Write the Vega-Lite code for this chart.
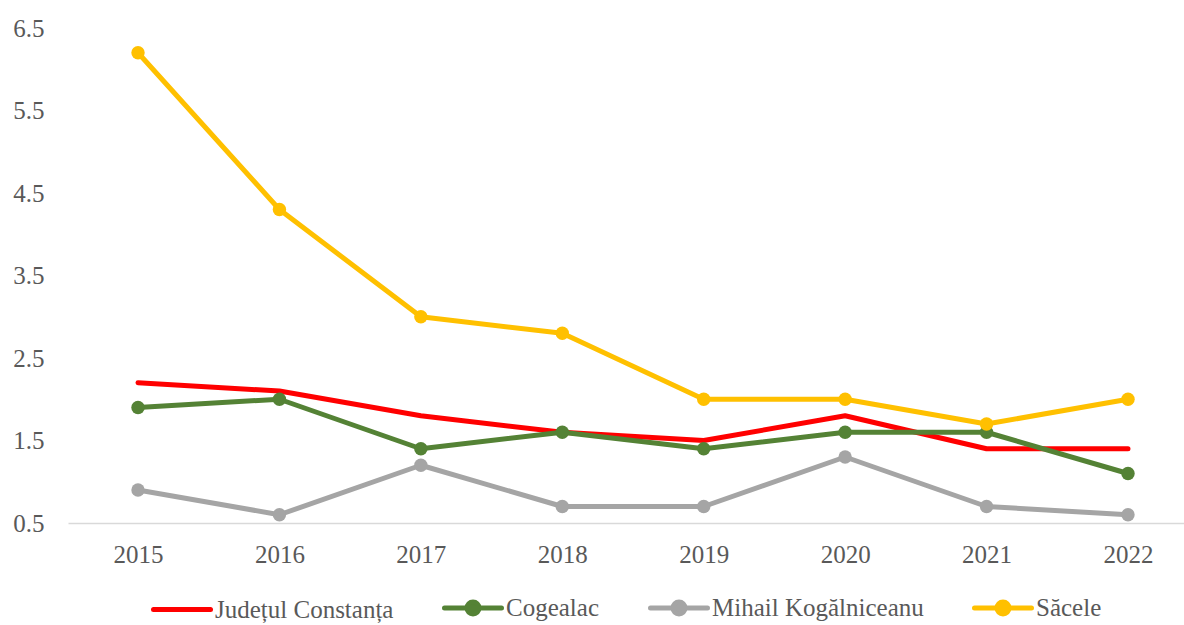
{
  "$schema": "https://vega.github.io/schema/vega-lite/v6.json",
  "width": 1116,
  "height": 495,
  "autosize": {"type": "none"},
  "padding": {"left": 68, "top": 28, "right": 0, "bottom": 102},
  "background": "white",
  "config": {
    "view": {"stroke": null},
    "font": "Liberation Serif",
    "axis": {"labelFont": "Liberation Serif", "labelFontSize": 25, "labelColor": "#595959", "ticks": false, "tickSize": 0, "grid": false, "title": null},
    "legend": {"layout": {"bottom": {"anchor": "middle"}}}
  },
  "data": {
    "values": [
      {"series": "Județul Constanța", "year": 2015, "value": 2.2},
      {"series": "Județul Constanța", "year": 2016, "value": 2.1},
      {"series": "Județul Constanța", "year": 2017, "value": 1.8},
      {"series": "Județul Constanța", "year": 2018, "value": 1.6},
      {"series": "Județul Constanța", "year": 2019, "value": 1.5},
      {"series": "Județul Constanța", "year": 2020, "value": 1.8},
      {"series": "Județul Constanța", "year": 2021, "value": 1.4},
      {"series": "Județul Constanța", "year": 2022, "value": 1.4},
      {"series": "Cogealac", "year": 2015, "value": 1.9},
      {"series": "Cogealac", "year": 2016, "value": 2.0},
      {"series": "Cogealac", "year": 2017, "value": 1.4},
      {"series": "Cogealac", "year": 2018, "value": 1.6},
      {"series": "Cogealac", "year": 2019, "value": 1.4},
      {"series": "Cogealac", "year": 2020, "value": 1.6},
      {"series": "Cogealac", "year": 2021, "value": 1.6},
      {"series": "Cogealac", "year": 2022, "value": 1.1},
      {"series": "Mihail Kogălniceanu", "year": 2015, "value": 0.9},
      {"series": "Mihail Kogălniceanu", "year": 2016, "value": 0.6},
      {"series": "Mihail Kogălniceanu", "year": 2017, "value": 1.2},
      {"series": "Mihail Kogălniceanu", "year": 2018, "value": 0.7},
      {"series": "Mihail Kogălniceanu", "year": 2019, "value": 0.7},
      {"series": "Mihail Kogălniceanu", "year": 2020, "value": 1.3},
      {"series": "Mihail Kogălniceanu", "year": 2021, "value": 0.7},
      {"series": "Mihail Kogălniceanu", "year": 2022, "value": 0.6},
      {"series": "Săcele", "year": 2015, "value": 6.2},
      {"series": "Săcele", "year": 2016, "value": 4.3},
      {"series": "Săcele", "year": 2017, "value": 3.0},
      {"series": "Săcele", "year": 2018, "value": 2.8},
      {"series": "Săcele", "year": 2019, "value": 2.0},
      {"series": "Săcele", "year": 2020, "value": 2.0},
      {"series": "Săcele", "year": 2021, "value": 1.7},
      {"series": "Săcele", "year": 2022, "value": 2.0}
    ]
  },
  "encoding": {
    "x": {
      "field": "year", "type": "quantitative",
      "scale": {"domain": [2014.505, 2022.396], "nice": false, "zero": false},
      "axis": {"values": [2015, 2016, 2017, 2018, 2019, 2020, 2021, 2022], "format": "d", "domainColor": "#d9d9d9", "domainWidth": 1.5, "labelPadding": 19, "labelFlush": false}
    },
    "y": {
      "field": "value", "type": "quantitative",
      "scale": {"domain": [0.5, 6.5], "nice": false, "zero": false},
      "axis": {"values": [0.5, 1.5, 2.5, 3.5, 4.5, 5.5, 6.5], "format": ".1f", "domain": false, "labelPadding": 24}
    },
    "color": {
      "field": "series", "type": "nominal",
      "scale": {
        "domain": ["Județul Constanța", "Cogealac", "Mihail Kogălniceanu", "Săcele"],
        "range": ["#FF0000", "#548235", "#A5A5A5", "#FFC000"]
      }
    }
  },
  "layer": [
    {
      "mark": {"type": "line", "strokeWidth": 5, "strokeCap": "round", "strokeJoin": "round"},
      "encoding": {
        "color": {
          "field": "series", "type": "nominal",
          "legend": {
            "orient": "bottom", "direction": "horizontal", "title": null,
            "labelFont": "Liberation Serif", "labelFontSize": 25, "labelColor": "#595959", "labelLimit": 400,
            "symbolSize": 3249, "symbolStrokeWidth": 5, "labelOffset": 2, "columnPadding": 40, "offset": 10,
            "encode": {
              "symbols": {
                "update": {
                  "shape": {"signal": "datum.value === 'Județul Constanța' ? 'M-1,0H1' : 'M-1,0H1M-0.21,0A0.21,0.21 0 1,0 0.21,0A0.21,0.21 0 1,0 -0.21,0Z'"},
                  "fill": {"signal": "datum.value === 'Județul Constanța' ? 'transparent' : scale('color', datum.value)"},
                  "stroke": {"signal": "scale('color', datum.value)"},
                  "strokeCap": {"value": "round"}
                }
              }
            }
          }
        }
      }
    },
    {
      "transform": [{"filter": "datum.series !== 'Județul Constanța'"}],
      "mark": {"type": "circle", "size": 180, "opacity": 1},
      "encoding": {"color": {"field": "series", "type": "nominal", "legend": null}}
    }
  ]
}
